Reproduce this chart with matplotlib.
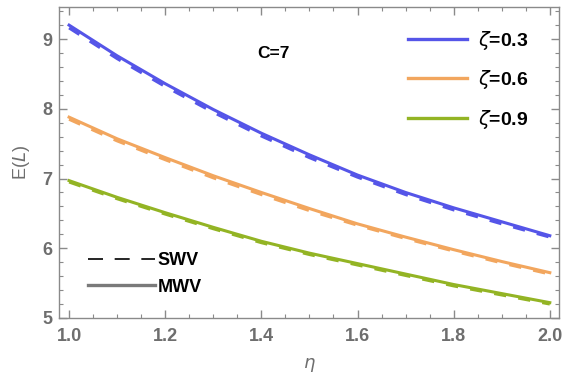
import numpy as np
from matplotlib import pyplot as plt
from matplotlib.lines import Line2D
from matplotlib.ticker import MultipleLocator

plt.rcParams["font.family"] = ["Liberation Sans", "DejaVu Sans"]
plt.rcParams["mathtext.fontset"] = "dejavusans"

eta = [1.0, 1.1, 1.2, 1.3, 1.4, 1.5, 1.6, 1.7, 1.8, 1.9, 2.0]

# MWV (solid) curves
mwv_03 = [9.20, 8.76, 8.36, 7.99, 7.65, 7.34, 7.05, 6.80, 6.58, 6.38, 6.18]
mwv_06 = [7.88, 7.57, 7.30, 7.04, 6.80, 6.57, 6.35, 6.16, 5.98, 5.81, 5.65]
mwv_09 = [6.97, 6.73, 6.51, 6.30, 6.10, 5.93, 5.78, 5.63, 5.48, 5.35, 5.22]

# SWV (dashed) curves
swv_03 = [9.16, 8.72, 8.32, 7.95, 7.61, 7.30, 7.02, 6.77, 6.55, 6.35, 6.16]
swv_06 = [7.85, 7.54, 7.27, 7.01, 6.77, 6.54, 6.33, 6.14, 5.96, 5.79, 5.63]
swv_09 = [6.95, 6.71, 6.49, 6.28, 6.08, 5.91, 5.76, 5.61, 5.46, 5.33, 5.20]

zeta_labels = [r"$\zeta$=0.3", r"$\zeta$=0.6", r"$\zeta$=0.9"]
colors = ["#5555e8", "#f2a65e", "#93b424"]

fig = plt.figure(figsize=(5.64, 3.81), dpi=100)
ax = fig.add_axes([0.1046, 0.1654, 0.8864, 0.8162])

for mwv, swv, c in zip([mwv_03, mwv_06, mwv_09], [swv_03, swv_06, swv_09], colors):
    ax.plot(eta, mwv, "-", color=c, lw=2.2, zorder=3)
    ax.plot(eta, swv, "--", color=c, lw=2.2, dashes=(4, 4), zorder=2)

ax.set_xlim(0.979, 2.019)
ax.set_ylim(5.0, 9.46)

ax.xaxis.set_minor_locator(MultipleLocator(0.05))
ax.yaxis.set_minor_locator(MultipleLocator(0.2))

frame_gray = "#8a8a8a"
label_gray = "#6e6e6e"
for spine in ax.spines.values():
    spine.set_color(frame_gray)
    spine.set_linewidth(1.0)
ax.tick_params(which="both", direction="in", top=True, right=True,
               color=frame_gray, labelcolor=label_gray, labelsize=13)
ax.tick_params(which="major", length=6, width=1.0)
ax.tick_params(which="minor", length=3, width=0.8)
ax.tick_params(axis="x", pad=7)
ax.tick_params(axis="y", pad=5)
ax.set_xticks(np.arange(1.0, 2.01, 0.2))
ax.set_xticklabels(["1.0", "1.2", "1.4", "1.6", "1.8", "2.0"], fontweight="bold")
ax.set_yticks([5, 6, 7, 8, 9])
ax.set_yticklabels(["5", "6", "7", "8", "9"], fontweight="bold")

ax.set_xlabel(r"$\eta$", color=label_gray, fontsize=13, labelpad=8)
ax.set_ylabel(r"E($L$)", color=label_gray, fontsize=13, labelpad=7)

ax.text(0.428, 0.852, "C=7", transform=ax.transAxes, fontsize=12.5,
        fontweight="bold", ha="center", va="center")

zeta_handles = [Line2D([], [], color=c, lw=2.4) for c in colors]
leg1 = ax.legend(zeta_handles, zeta_labels, loc="upper right",
                 bbox_to_anchor=(0.975, 0.987), frameon=False,
                 prop={"size": 14, "weight": "bold"}, handlelength=3.0,
                 labelspacing=0.85, handletextpad=0.6)
ax.add_artist(leg1)

style_handles = [Line2D([], [], color="black", lw=1.2, ls=(0, (9, 7))),
                 Line2D([], [], color="#7a7a7a", lw=2.4)]
ax.legend(style_handles, ["SWV", "MWV"], loc="lower left",
          bbox_to_anchor=(0.025, 0.02), frameon=False,
          prop={"size": 13, "weight": "bold"}, handlelength=3.7,
          labelspacing=0.5, handletextpad=0.15)

fig.savefig("out.png", dpi=100)
plt.close(fig)
